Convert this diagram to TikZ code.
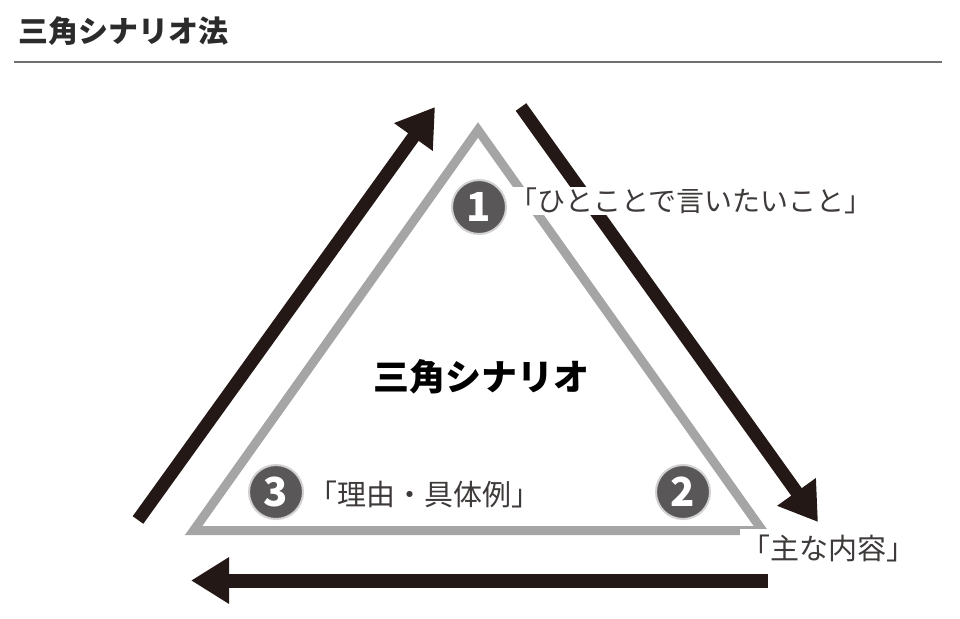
\documentclass[tikz,border=0pt]{standalone}
\usepackage{fontspec}
\newfontfamily\jp{Noto Sans CJK JP}
\usetikzlibrary{arrows.meta}
\definecolor{triGray}{HTML}{A5A5A5}
\definecolor{arrowDark}{HTML}{231815}
\definecolor{numGray}{HTML}{595757}
\definecolor{textGray}{HTML}{3E3A39}
\definecolor{titleCol}{HTML}{2B2B2B}
\definecolor{ruleGray}{HTML}{707070}
\begin{document}
\begin{tikzpicture}[x=1pt,y=-1pt,
  tri/.style={draw=triGray, line width=9pt, line join=miter},
  bigarrow/.style={draw=arrowDark, line width=13pt, -{Triangle[width=45pt,length=37pt]}},
  numcirc/.style={circle, fill=numGray, draw=black!18, line width=2pt, minimum size=54pt, inner sep=0pt, text=white, font=\jp\bfseries\fontsize{40}{40}\selectfont},
  quote/.style={fill=white, inner sep=1pt, text=textGray, font=\jp\fontsize{28}{28}\selectfont},
  titletext/.style={inner sep=0pt, text=titleCol, font=\jp\bfseries\fontsize{30}{30}\selectfont},
  centertext/.style={inner sep=0pt, text=black, font=\jp\bfseries\fontsize{36}{36}\selectfont}
]
\useasboundingbox (0,0) rectangle (960,618);

% title and rule
\node[titletext] (title) at (123,31) {三角シナリオ法};
\coordinate (r1) at (14,62);
\coordinate (r2) at (942,62);
\draw[ruleGray, line width=1.3pt] (r1) -- (r2);

% triangle
\coordinate (top) at (478,130);
\coordinate (bl) at (193.6,530.5);
\coordinate (br) at (762.4,530.5);
\draw[tri] (top) -- (br) -- (bl) -- cycle;

% arrows
\coordinate (a1s) at (138,520);
\coordinate (a1e) at (435,107);
\coordinate (a2s) at (521,107);
\coordinate (a2e) at (818,522);
\coordinate (a3s) at (768,580.5);
\coordinate (a3e) at (191,580.5);
\draw[bigarrow] (a1s) -- (a1e);
\draw[bigarrow] (a2s) -- (a2e);
\draw[bigarrow, line width=14pt, -{Triangle[width=44pt,length=38pt]}] (a3s) -- (a3e);

% labels
\node[quote] (t1) at (691,201) {「ひとことで言いたいこと」};
\node[quote, font=\jp\fontsize{29}{29}\selectfont] (t3) at (424,494) {「理由・具体例」};
\node[quote, inner ysep=5pt, font=\jp\fontsize{29}{29}\selectfont] (t2) at (828,548) {「主な内容」};

% numbered circles
\node[numcirc] (c1) at (479,207) {1};
\node[numcirc] (c2) at (683,492) {2};
\node[numcirc] (c3) at (276,492) {3};

% centre
\node[centertext] (center) at (481,377) {三角シナリオ};
\end{tikzpicture}
\end{document}
